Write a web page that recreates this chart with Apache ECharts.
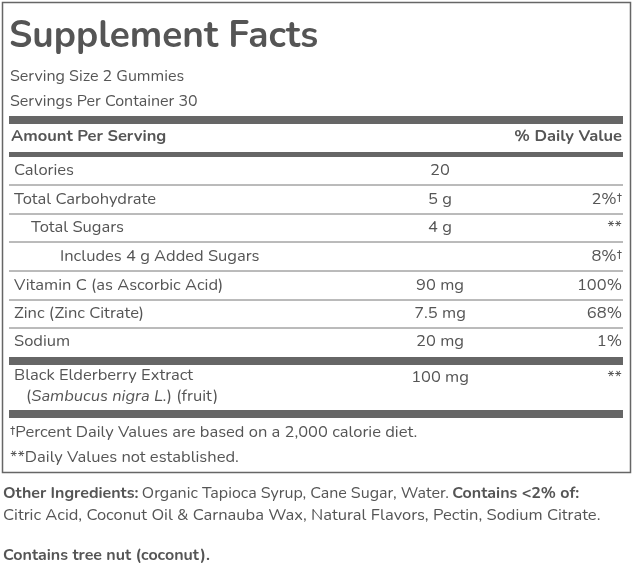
<!DOCTYPE html>
<html><head><meta charset="utf-8">
<script src="https://cdn.jsdelivr.net/npm/echarts@6/dist/echarts.min.js"></script>
<style>html,body{margin:0;padding:0;background:#fff}#c{width:633px;height:568px}</style>
</head><body><div id="c"></div>
<script>
const title = "Supplement Facts";
const servingLines = ["Serving Size 2 Gummies", "Servings Per Container 30"];
const headerLeft = "Amount Per Serving", headerRight = "% Daily Value";
const nutrients = ["Calories","Total Carbohydrate","Total Sugars","Includes 4 g Added Sugars","Vitamin C (as Ascorbic Acid)","Zinc (Zinc Citrate)","Sodium"];
const indents = [0,0,1,2,0,0,0];
const amounts = ["20","5 g","4 g","","90 mg","7.5 mg","20 mg"];
const dailyValues = ["","2%†","**","8%†","100%","68%","1%"];
const herbName = "Black Elderberry Extract", herbAmount = "100 mg", herbDV = "**";
const footnotes = ["†Percent Daily Values are based on a 2,000 calorie diet.", "**Daily Values not established."];

const C = '#555', F = 'Nunito, "Open Sans", Lato, sans-serif', S = 16.5;
const g = [];
const txt = (x,y,t,o={}) => g.push({type:'text',x,y,style:Object.assign({text:t,fill:C,font:`${o.w||'normal'} ${o.s||S}px ${F}`,textAlign:o.a||'left',textVerticalAlign:'middle'},o.extra||{})});
const rect = (x,y,w,h,fill,stroke) => g.push({type:'rect',shape:{x,y,width:w,height:h},style:{fill:fill||'none',stroke:stroke||null,lineWidth:1.5}});
rect(2.5,2.5,628,470,'none','#666');
txt(9,38,title,{w:'bold',s:37});
servingLines.forEach((s,i)=>txt(10,77+i*25,s,{s:16}));
rect(9,116,614,8,'#666');
txt(11,137,headerLeft,{w:'bold'});
txt(622,137,headerRight,{w:'bold',a:'right'});
rect(9,152,614,5,'#666');
const rowY = [171,200,228,257,286,314,342];
nutrients.forEach((n,i)=>{
  const y=rowY[i];
  txt(14+indents[i]*17+(indents[i]===2?12:0),y,n);
  txt(440,y,amounts[i],{a:'center'});
  txt(622,y,dailyValues[i],{a:'right'});
  if(i<nutrients.length-1) g.push({type:'line',shape:{x1:9,y1:y+14,x2:623,y2:y+14},style:{stroke:'#777',lineWidth:1}});
});
rect(9,357,614,8,'#666');
txt(14,376,herbName); txt(440,378,herbAmount,{a:'center'}); txt(622,378,herbDV,{a:'right'});
g.push({type:'text',x:26,y:397,style:{rich:{i:{font:`italic ${S}px ${F}`,fill:C},n:{font:`${S}px ${F}`,fill:C}},text:'{n|(}{i|Sambucus nigra L.}{n|) (fruit)}',textVerticalAlign:'middle'}});
rect(9,410,614,8,'#666');
footnotes.forEach((f,i)=>txt(10,433+i*25,f));
g.push({type:'text',x:3,y:494,style:{rich:{b:{font:`bold 16px ${F}`,fill:C},n:{font:`16px ${F}`,fill:C}},text:'{b|Other Ingredients:} {n|Organic Tapioca Syrup, Cane Sugar, Water.} {b|Contains <2% of:}',textVerticalAlign:'middle'}});
txt(3,516,"Citric Acid, Coconut Oil & Carnauba Wax, Natural Flavors, Pectin, Sodium Citrate.",{s:16.5});
txt(3,556,"Contains tree nut (coconut).",{s:16,w:'bold'});
const chart = echarts.init(document.getElementById('c'));
chart.setOption({graphic:{elements:g}});
</script></body></html>
